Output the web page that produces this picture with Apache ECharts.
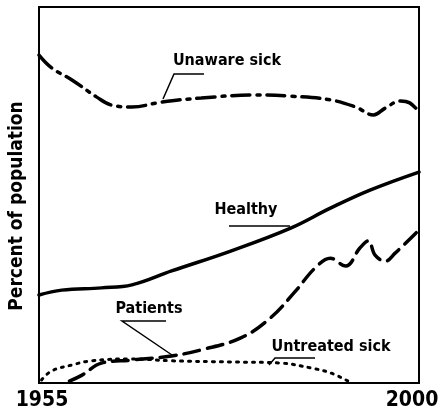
<!DOCTYPE html>
<html>
<head>
<meta charset="utf-8">
<script src="https://cdn.jsdelivr.net/npm/echarts@6/dist/echarts.min.js"></script>
<style>
  html, body { margin: 0; padding: 0; background: #fff; }
  #chart { width: 442px; height: 416px; }
</style>
</head>
<body>
<div id="chart"></div>
<script>
// years on x, percent of population on y
var unawareSick = [
  [1955, 87.2], [1956.5, 83.8], [1958.9, 80.6], [1961.8, 76.1], [1963.6, 73.9],
  [1966, 73.4], [1969.5, 74.7], [1974.2, 75.8], [1980.7, 76.6], [1984.8, 76.3],
  [1989.5, 75.3], [1992.5, 73.4], [1994.6, 71.3], [1996, 73.1], [1997.8, 75],
  [1998.9, 74.5], [2000, 72.1]
];
var healthy = [
  [1955, 23.4], [1957.7, 24.7], [1962.4, 25.3], [1966, 26.1], [1970.7, 29.8],
  [1977.7, 35.1], [1984.8, 41.2], [1989.5, 46.5], [1994.2, 51.3], [2000, 56.1]
];
var patients = [
  [1958.6, 0.5], [1960.1, 2.1], [1962.4, 5.3], [1966, 6.1], [1970.7, 7.2],
  [1974.2, 8.8], [1978.9, 12], [1982.4, 17.3], [1985.4, 24.5], [1987.7, 30.6],
  [1989.5, 33.2], [1991.3, 31.1], [1993, 35.9], [1994, 37.8], [1994.8, 34],
  [1996, 32.4], [1997.2, 34.6], [2000, 40.7]
];
var untreatedSick = [
  [1955.3, 0.8], [1956.5, 3.2], [1958.9, 4.8], [1961.2, 5.9], [1966, 6.4],
  [1970.7, 5.9], [1977.7, 5.6], [1983.6, 5.3], [1987.2, 4], [1989.5, 2.7],
  [1991.6, 0.5]
];
var xTicks = [1955, 2000];
var yTitle = 'Percent of population';

var FONT = 'DejaVu Sans Condensed';

function lineSeries(name, data, type, width) {
  return {
    name: name,
    type: 'line',
    data: data,
    smooth: 0.4,
    symbol: 'none',
    silent: true,
    lineStyle: { color: '#000', width: width, type: type, cap: 'round' }
  };
}

// text + leader line for each curve label
function note(text, cx, cy, pts) {
  return [
    {
      type: 'text', x: cx, y: cy,
      style: {
        text: text, fill: '#000', font: 'bold 16px "' + FONT + '"',
        textAlign: 'center', textVerticalAlign: 'middle'
      }
    },
    {
      type: 'polyline',
      shape: { points: pts },
      style: { stroke: '#000', lineWidth: 1.5, fill: null }
    }
  ];
}

var chart = echarts.init(document.getElementById('chart'));
chart.setOption({
  animation: false,
  backgroundColor: '#fff',
  grid: {
    left: 37, right: 23, top: 7, bottom: 33,
    show: true, borderColor: '#000', borderWidth: 2, backgroundColor: 'transparent'
  },
  xAxis: {
    type: 'value', min: xTicks[0], max: xTicks[1], interval: xTicks[1] - xTicks[0],
    axisLine: { show: false }, axisTick: { show: false }, splitLine: { show: false },
    axisLabel: {
      margin: 7,
      formatter: function (v) { return v === xTicks[0] ? '{a|' + v + '}' : '{b|' + v + '}'; },
      rich: {
        a: { fontFamily: FONT, fontWeight: 'bold', fontSize: 21, color: '#000', padding: [0, 0, 0, 6] },
        b: { fontFamily: FONT, fontWeight: 'bold', fontSize: 21, color: '#000', padding: [0, 14, 0, 0] }
      }
    }
  },
  yAxis: {
    type: 'value', min: 0, max: 100,
    name: yTitle, nameLocation: 'middle', nameRotate: 90, nameGap: 12,
    nameTextStyle: {
      fontFamily: FONT, fontWeight: 'bold', fontSize: 19, color: '#000',
      padding: [0, 22, 0, 0]
    },
    axisLine: { show: false }, axisTick: { show: false },
    axisLabel: { show: false }, splitLine: { show: false }
  },
  series: [
    lineSeries('Unaware sick', unawareSick, [18, 7, 3, 7], 3.5),
    lineSeries('Healthy', healthy, 'solid', 3.5),
    lineSeries('Patients', patients, [16, 8], 3.5),
    lineSeries('Untreated sick', untreatedSick, [2, 6], 3)
  ],
  graphic: [].concat(
    note('Unaware sick', 227, 61, [[204, 74], [174, 74], [163, 99]]),
    note('Healthy', 246, 210, [[229, 226], [290, 226]]),
    note('Patients', 149, 309, [[166, 321], [122, 321], [172, 355]]),
    note('Untreated sick', 331, 347, [[315, 358], [275, 358], [269, 365]])
  )
});
</script>
</body>
</html>
